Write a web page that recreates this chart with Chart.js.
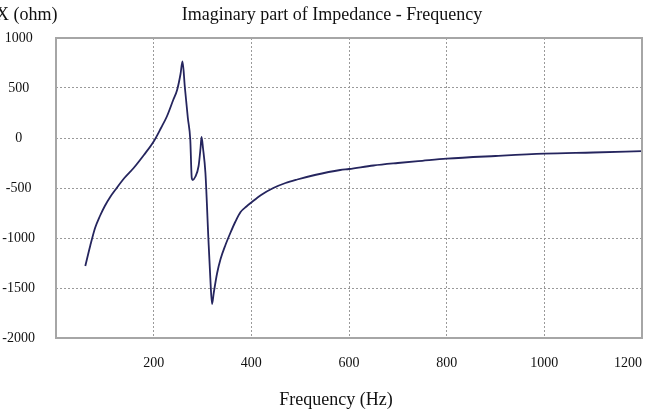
<!DOCTYPE html>
<html>
<head>
<meta charset="utf-8">
<script src="https://cdn.jsdelivr.net/npm/chart.js@4"></script>
<style>
  html, body { margin: 0; padding: 0; background: #fff; }
  canvas { display: block; }
</style>
</head>
<body>
<canvas id="chart" width="645" height="412"></canvas>
<script>
// frequency (Hz) and reactance X (ohm)
const freqHz = [60, 70, 80, 90, 100, 111, 122, 140, 159, 180, 200, 215, 227, 240, 248, 255, 259,
  264, 270, 275, 278, 280, 285, 292, 296, 298, 301, 306, 312, 316, 319.5, 323, 330, 337, 347,
  357, 367, 378, 390, 400, 420, 445, 470, 494, 530, 582, 600, 650, 700, 750, 800, 900, 1000,
  1100, 1200];
const reactance = [-1280, -1080, -900, -780, -680, -590, -515, -400, -300, -170, -35, 100, 215,
  380, 480, 640, 765, 500, 200, -20, -400, -420, -390, -280, -100, 10, -100, -350, -1000, -1400,
  -1660, -1550, -1350, -1210, -1070, -950, -840, -740, -685, -645, -570, -500, -450, -415, -370,
  -320, -310, -275, -250, -228, -207, -180, -157, -145, -132];

const xTicks = [0, 200, 400, 600, 800, 1000, 1200];
const yTicks = [-2000, -1500, -1000, -500, 0, 500, 1000];

const chartTitle = 'Imaginary part of Impedance - Frequency';
const yUnit = 'X (ohm)';
const xTitle = 'Frequency (Hz)';

Chart.defaults.font.family = "'Liberation Serif', 'Times New Roman', serif";
Chart.defaults.color = '#111';

// grey frame round the plot plus the three captions
const frameAndText = {
  id: 'frameAndText',
  afterDraw(chart) {
    const { ctx, chartArea: a } = chart;
    ctx.save();
    ctx.strokeStyle = '#a6a6a6';
    ctx.lineWidth = 2;
    ctx.strokeRect(a.left, a.top, a.right - a.left, a.bottom - a.top);
    ctx.fillStyle = '#111';
    ctx.font = "18px 'Liberation Serif', serif";
    ctx.textBaseline = 'middle';
    ctx.textAlign = 'left';
    ctx.fillText(yUnit, -4, 15);
    ctx.textAlign = 'center';
    ctx.fillText(chartTitle, 332, 15);
    ctx.fillText(xTitle, 336, 400);
    ctx.restore();
  }
};

const gridStyle = {
  color: '#9a9a9a',
  lineWidth: 1,
  drawTicks: false
};

new Chart(document.getElementById('chart'), {
  type: 'line',
  data: {
    datasets: [{
      label: 'X',
      data: freqHz.map((f, i) => ({ x: f, y: reactance[i] })),
      borderColor: '#25255e',
      borderWidth: 1.8,
      pointRadius: 0,
      cubicInterpolationMode: 'monotone',
      fill: false
    }]
  },
  options: {
    responsive: false,
    animation: false,
    layout: { padding: { top: 38, right: 3, left: 0, bottom: 0 } },
    plugins: {
      legend: { display: false },
      title: { display: false },
      tooltip: { enabled: false }
    },
    scales: {
      x: {
        type: 'linear',
        min: xTicks[0],
        max: xTicks[xTicks.length - 1],
        afterBuildTicks: s => { s.ticks = xTicks.map(v => ({ value: v })); },
        afterFit: s => { s.height = 74; s.paddingLeft = 0; s.paddingRight = 0; },
        border: { display: false, dash: [2, 2] },
        grid: gridStyle,
        ticks: {
          align: 'inner',
          padding: 17,
          font: { size: 14 },
          callback: v => (v === 0 ? '' : String(v))
        }
      },
      y: {
        min: yTicks[0],
        max: yTicks[yTicks.length - 1],
        afterBuildTicks: s => { s.ticks = yTicks.map(v => ({ value: v })); },
        afterFit: s => { s.width = 56; s.paddingTop = 0; s.paddingBottom = 0; },
        border: { display: false, dash: [2, 2] },
        grid: gridStyle,
        ticks: {
          crossAlign: 'center',
          padding: 21,
          font: { size: 14 },
          callback: v => String(v)
        }
      }
    }
  },
  plugins: [frameAndText]
});
</script>
</body>
</html>
